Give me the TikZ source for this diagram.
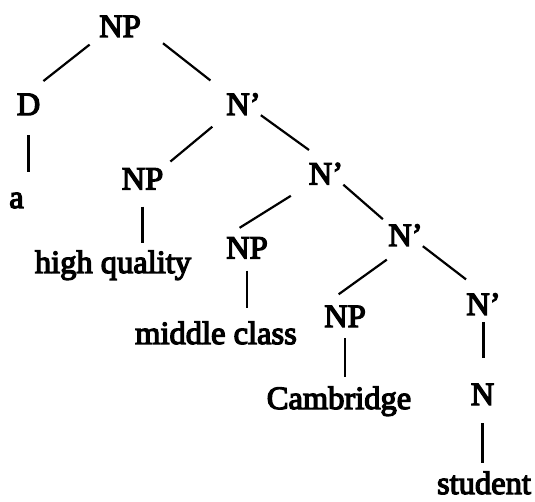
\documentclass[tikz,border=0pt]{standalone}
\usepackage{fontspec}
\newfontfamily\treefont[FakeBold=4]{Liberation Serif}
\tikzset{
  cat/.style={inner sep=0pt,text height=22pt,text depth=0pt,
              font=\treefont\fontsize{32.5}{36}\selectfont},
  leaf/.style={cat,anchor=base},
  br/.style 2 args={line width=2.2pt,shorten <=#1,shorten >=#2},
}
\begin{document}
\begin{tikzpicture}[x=1pt,y=-1pt]
\useasboundingbox (0,0) rectangle (535,502);
% categories
\node[cat] (np0) at (120,26)    {NP};
\node[cat] (d)   at (28.5,104)  {D};
\node[cat] (nb1) at (243.5,104) {N’};
\node[cat] (np1) at (142.5,178.5) {NP};
\node[cat] (nb2) at (326,173.5) {N’};
\node[cat] (np2) at (247,247.5) {NP};
\node[cat] (nb3) at (405.5,235) {N’};
\node[cat] (np3) at (345,316)   {NP};
\node[cat] (nb4) at (483.5,304) {N’};
\node[cat] (n)   at (482.5,394) {N};
% words
\node[leaf] (a)   at (16.5,208) {a};
\node[leaf] (hq)  at (113,273)  {high quality};
\node[leaf] (mc)  at (216,344)  {middle class};
\node[leaf] (cam) at (339,409)  {Cambridge};
\node[leaf] (st)  at (484,494)  {student};
% branches
\draw[br={12pt}{19pt}] (np0.south west) -- (d.north);
\draw[br={28pt}{20pt}] (np0.east) -- (nb1.north west);
\draw[br={18pt}{9pt}]  (nb1.south west) -- (np1.north east);
\draw[br={0pt}{21pt}]  (nb1.south east) -- (nb2.north);
\draw[br={21pt}{16pt}] (nb2.south west) -- (np2.north west);
\draw[br={0pt}{7pt}]   (nb2.south east) -- (nb3.north west);
\draw[br={23pt}{18pt}] (nb3.south) -- (np3.north west);
\draw[br={0pt}{22pt}]  (nb3.south east) -- (nb4.north);
\draw[br={20pt}{14pt}] (d.south) -- (d.south |- a.north);
\draw[br={17pt}{8pt}]  (np1.south) -- (np1.south |- hq.north);
\draw[br={12pt}{14pt}] (np2.south) -- (np2.south |- mc.north);
\draw[br={11pt}{10pt}] (np3.south) -- (np3.south |- cam.north);
\draw[br={7pt}{25pt}]  (nb4.south) -- (nb4.south |- n.north);
\draw[br={18pt}{9pt}]  (n.south) -- (n.south |- st.north);
\end{tikzpicture}
\end{document}
